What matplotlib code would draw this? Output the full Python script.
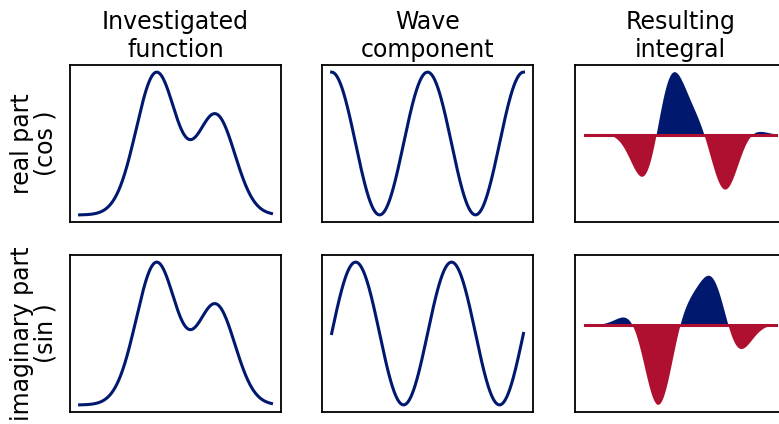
import numpy as np
import matplotlib
matplotlib.use("Agg")
import matplotlib.pyplot as plt

# two-peak test signal: centres, heights and widths of the bumps
peak_centres = [0.40, 0.71]
peak_heights = [1.0, 0.70]
peak_widths = [0.105, 0.10]

# number of full wave periods across the interval
n_periods = 2

col_titles = ["Investigated\nfunction", "Wave\ncomponent", "Resulting\nintegral"]
row_labels = ["real part\n(cos )", "imaginary part\n(sin )"]

navy = "#00186e"
crimson = "#af1030"

x = np.linspace(0, 1, 600)
f = np.zeros_like(x)
for c, h, w in zip(peak_centres, peak_heights, peak_widths):
    f += h * np.exp(-(x - c) ** 2 / (2 * w ** 2))

waves = [np.cos(2 * np.pi * n_periods * x), np.sin(2 * np.pi * n_periods * x)]

fig = plt.figure(figsize=(7.79, 4.24), dpi=100)

lefts = [0.0899, 0.4134, 0.7381]
width = 0.2709
bottoms = [0.4764, 0.0283]
height = 0.3703

axes = [[fig.add_axes([l, b, width, height]) for l in lefts] for b in bottoms]
axes[1][2].sharey(axes[0][2])

for r in range(2):
    wave = waves[r]
    prod = f * wave
    ax0, ax1, ax2 = axes[r]

    ax0.plot(x, f, color=navy, lw=2.2)
    ax1.plot(x, wave, color=navy, lw=2.2)

    ax2.fill_between(x, prod, 0, where=prod >= 0, color=navy, lw=0, interpolate=True)
    ax2.fill_between(x, prod, 0, where=prod <= 0, color=crimson, lw=0, interpolate=True)
    ax2.plot(x, np.zeros_like(x), color=crimson, lw=2.2)

    ax0.set_ylabel(row_labels[r], fontsize=17, labelpad=9, linespacing=0.95)

    for c, ax in enumerate(axes[r]):
        ax.set_xticks([])
        ax.set_yticks([])
        for s in ax.spines.values():
            s.set_linewidth(1.3)
        if r == 0:
            ax.set_title(col_titles[c], fontsize=17, pad=6)

fig.savefig("out.png", dpi=100)
